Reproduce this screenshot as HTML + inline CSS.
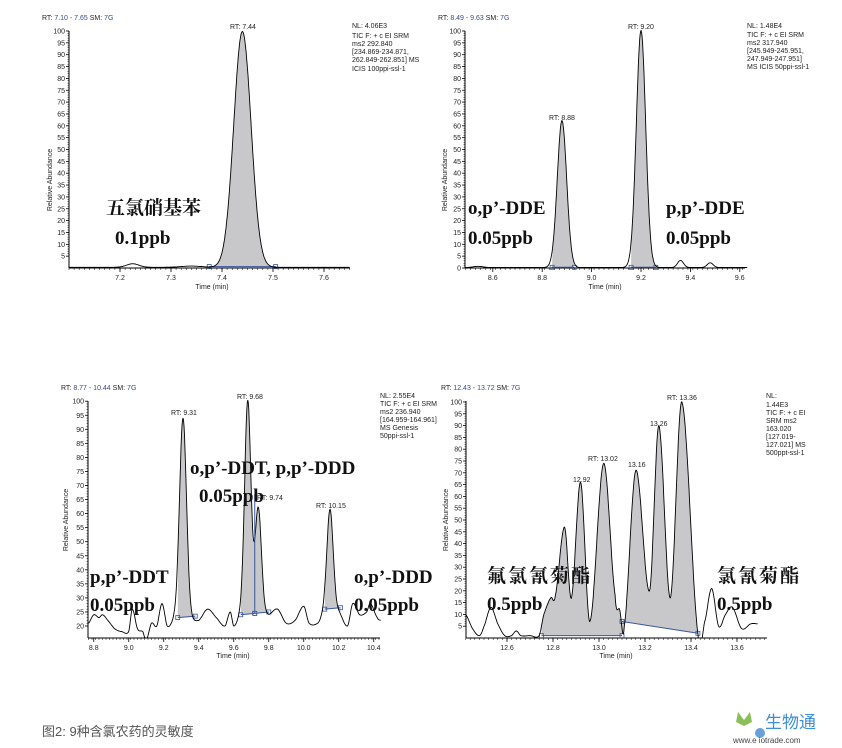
<!DOCTYPE html>
<html><head><meta charset="utf-8">
<style>
body{margin:0;background:#fff;width:842px;height:748px;overflow:hidden;position:relative;font-family:"Liberation Sans",sans-serif}
svg{position:absolute;left:0;top:0}
.s{font-family:"Liberation Sans",sans-serif;font-size:7px;fill:#222}
.h{font-family:"Liberation Sans",sans-serif;font-size:7px;fill:#222}
.b{font-family:"Liberation Serif","Noto Serif CJK SC",serif;font-size:19px;font-weight:bold;fill:#111}
.r{fill:#3a4a8a}
</style></head><body>
<svg width="842" height="748" viewBox="0 0 842 748" id="sv">
<g id="g"></g>
<text x="42" y="20" class="h">RT: <tspan class="r">7.10 - 7.65</tspan>  SM: <tspan class="r">7G</tspan></text>
<text x="230" y="29" class="s">RT: 7.44</text>
<g class="s"><text x="352" y="28">NL: 4.06E3</text><text x="352" y="38">TIC F: + c EI SRM</text><text x="352" y="46">ms2 292.840</text><text x="352" y="54">[234.869-234.871,</text><text x="352" y="62">262.849-262.851] MS</text><text x="352" y="71"> ICIS 100ppi-ssl-1</text></g>
<text x="52" y="180" class="s" transform="rotate(-90 52 180)" text-anchor="middle">Relative Abundance</text>
<text x="212" y="289" class="s" text-anchor="middle">Time (min)</text>
<text x="106" y="214" class="b">五氯硝基苯</text>
<text x="115" y="244" class="b">0.1ppb</text>
<text x="438" y="20" class="h">RT: <tspan class="r">8.49 - 9.63</tspan>  SM: <tspan class="r">7G</tspan></text>
<text x="549" y="120" class="s">RT: 8.88</text>
<text x="628" y="29" class="s">RT: 9.20</text>
<g class="s"><text x="747" y="28">NL: 1.48E4</text><text x="747" y="37">TIC F: + c EI SRM</text><text x="747" y="45">ms2 317.940</text><text x="747" y="53">[245.949-245.951,</text><text x="747" y="61">247.949-247.951]</text><text x="747" y="69">MS  ICIS 50ppi-ssl-1</text></g>
<text x="447" y="180" class="s" transform="rotate(-90 447 180)" text-anchor="middle">Relative Abundance</text>
<text x="605" y="289" class="s" text-anchor="middle">Time (min)</text>
<text x="468" y="214" class="b">o,p’-DDE</text>
<text x="468" y="244" class="b">0.05ppb</text>
<text x="666" y="214" class="b">p,p’-DDE</text>
<text x="666" y="244" class="b">0.05ppb</text>
<text x="61" y="390" class="h">RT: <tspan class="r">8.77 - 10.44</tspan>  SM: <tspan class="r">7G</tspan></text>
<text x="171" y="415" class="s">RT: 9.31</text>
<text x="237" y="399" class="s">RT: 9.68</text>
<text x="257" y="500" class="s">RT: 9.74</text>
<text x="316" y="508" class="s">RT: 10.15</text>
<g class="s"><text x="380" y="398">NL: 2.55E4</text><text x="380" y="406">TIC F: + c EI SRM</text><text x="380" y="414">ms2 236.940</text><text x="380" y="422">[164.959-164.961]</text><text x="380" y="430"> MS  Genesis</text><text x="380" y="438">50ppi-ssl-1</text></g>
<text x="68" y="520" class="s" transform="rotate(-90 68 520)" text-anchor="middle">Relative Abundance</text>
<text x="233" y="658" class="s" text-anchor="middle">Time (min)</text>
<text x="190" y="474" class="b">o,p’-DDT, p,p’-DDD</text>
<text x="199" y="502" class="b">0.05ppb</text>
<text x="90" y="583" class="b">p,p’-DDT</text>
<text x="90" y="611" class="b">0.05ppb</text>
<text x="354" y="583" class="b">o,p’-DDD</text>
<text x="354" y="611" class="b">0.05ppb</text>
<text x="441" y="390" class="h">RT: <tspan class="r">12.43 - 13.72</tspan>  SM: <tspan class="r">7G</tspan></text>
<text x="667" y="400" class="s">RT: 13.36</text>
<text x="650" y="426" class="s">13.26</text>
<text x="588" y="461" class="s">RT: 13.02</text>
<text x="628" y="467" class="s">13.16</text>
<text x="573" y="482" class="s">12.92</text>
<g class="s"><text x="766" y="398">NL:</text><text x="766" y="407">1.44E3</text><text x="766" y="415">TIC F: + c EI</text><text x="766" y="423">SRM ms2</text><text x="766" y="431">163.020</text><text x="766" y="439">[127.019-</text><text x="766" y="447">127.021]  MS</text><text x="766" y="455">500ppt-ssl-1</text></g>
<text x="448" y="520" class="s" transform="rotate(-90 448 520)" text-anchor="middle">Relative Abundance</text>
<text x="616" y="658" class="s" text-anchor="middle">Time (min)</text>
<text x="487" y="582" class="b" letter-spacing="2">氟氯氰菊酯</text>
<text x="487" y="610" class="b">0.5ppb</text>
<text x="717" y="582" class="b" letter-spacing="2">氯氰菊酯</text>
<text x="717" y="610" class="b">0.5ppb</text>
<text x="42" y="736" style="font-family:'Liberation Sans','Noto Sans CJK SC',sans-serif;font-size:13px;fill:#555">图2: 9种含氯农药的灵敏度</text>
<path d="M738 712 l6 8 l6 -8 l2 10 l-8 4 l-8 -4z" fill="#8cbf5a"/>
<circle cx="760" cy="733" r="5" fill="#6aa0d8"/>
<text x="765" y="728" style="font-family:'Liberation Sans','Noto Sans CJK SC',sans-serif;font-size:17px;fill:#3d8fd6">生物通</text>
<text x="733" y="743" style="font-family:'Liberation Sans',sans-serif;font-size:8px;fill:#444">www.e  iotrade.com</text>
</svg>
<script>
var G=document.getElementById('g'),NS='http://www.w3.org/2000/svg';
function el(t,a){var e=document.createElementNS(NS,t);for(var k in a)e.setAttribute(k,a[k]);G.appendChild(e);return e;}
function gs(t,c,a,s){return a*Math.exp(-(t-c)*(t-c)/(2*s*s));}
function interp(pts,t){if(t<=pts[0][0])return pts[0][1];for(var i=0;i<pts.length-1;i++){var a=pts[i],b=pts[i+1];if(t<=b[0]){var p0=pts[Math.max(0,i-1)],p3=pts[Math.min(pts.length-1,i+2)];var u=(t-a[0])/(b[0]-a[0]);var m1=(b[1]-p0[1])/2,m2=(p3[1]-a[1])/2;var u2=u*u,u3=u2*u;return (2*u3-3*u2+1)*a[1]+(u3-2*u2+u)*m1+(-2*u3+3*u2)*b[1]+(u3-u2)*m2;}}return pts[pts.length-1][1];}
function axes(o){
 el('line',{x1:o.x0,y1:o.yt,x2:o.x0,y2:o.yb,stroke:'#000','stroke-width':1});
 el('line',{x1:o.x0,y1:o.yb,x2:o.x1,y2:o.yb,stroke:'#000','stroke-width':1});
 for(var v=o.ymin0;v<=100;v+=5){var y=o.Y(v);el('line',{x1:o.x0-3,y1:y,x2:o.x0,y2:y,stroke:'#000','stroke-width':0.8});
  var t=el('text',{x:o.x0-4,y:y+2.5,'text-anchor':'end','class':'s'});t.textContent=v;}
 for(var v=o.ymin0;v<=100;v+=1){var y=o.Y(v);el('line',{x1:o.x0-1.5,y1:y,x2:o.x0,y2:y,stroke:'#000','stroke-width':0.5});}
 for(var t=o.t0;t<=o.t1+1e-6;t+=o.minor){var x=o.X(t);if(x>o.x1)break;el('line',{x1:x,y1:o.yb,x2:x,y2:o.yb+2,stroke:'#000','stroke-width':0.5});}
 o.labels.forEach(function(l){var x=o.X(l);el('line',{x1:x,y1:o.yb,x2:x,y2:o.yb+4,stroke:'#000','stroke-width':0.8});var t=el('text',{x:x,y:o.yb+12,'text-anchor':'middle','class':'s'});t.textContent=l.toFixed(1);});
}
function curve(o,f,fills){
 var n=600,pts=[];for(var i=0;i<=n;i++){var t=o.ts+(o.te-o.ts)*i/n;var v=f(t);pts.push([o.X(t),Math.min(o.yb,o.Y(v)),t,v]);}
 fills.forEach(function(fl){var s='';var seg=pts.filter(function(p){return p[2]>=fl[0]&&p[2]<=fl[1];});
  seg.forEach(function(p,i){s+=(i?'L':'M')+p[0].toFixed(1)+' '+p[1].toFixed(1);});
  s+='L'+o.X(fl[1])+' '+o.Y(fl[3])+'L'+o.X(fl[0])+' '+o.Y(fl[2])+'Z';
  el('path',{d:s,fill:'#c8c8ca',stroke:'none'});
  el('line',{x1:o.X(fl[0]),y1:o.Y(fl[2]),x2:o.X(fl[1]),y2:o.Y(fl[3]),stroke:'#3a55a0','stroke-width':1});
  [[fl[0],fl[2]],[fl[1],fl[3]]].forEach(function(q){el('rect',{x:o.X(q[0])-2,y:o.Y(q[1])-2,width:4,height:4,fill:'none',stroke:'#3a55a0','stroke-width':0.8});});
 });
 var s='';pts.forEach(function(p,i){s+=(i?'L':'M')+p[0].toFixed(1)+' '+p[1].toFixed(1);});
 el('path',{d:s,fill:'none',stroke:'#000','stroke-width':0.9});
}
var c1={x0:69,x1:350,yt:31,yb:268,t0:7.1,t1:7.65,minor:0.01,labels:[7.2,7.3,7.4,7.5,7.6],ymin0:5,ts:7.1,te:7.65};
c1.X=function(t){return 120+(t-7.2)*510;};c1.Y=function(v){return 268-v*2.37;};
axes(c1);
curve(c1,function(t){return 0.3+gs(t,7.44,99.5,0.017)+gs(t,7.225,1.5,0.012)+gs(t,7.34,0.5,0.02);},[[7.375,7.505,0.6,0.6]]);
var c2={x0:465,x1:745,yt:31,yb:268,t0:8.49,t1:9.63,minor:0.02,labels:[8.6,8.8,9.0,9.2,9.4,9.6],ymin0:0,ts:8.49,te:9.63};
c2.X=function(t){return 641+(t-9.2)*247;};c2.Y=function(v){return 268-v*2.37;};
axes(c2);
curve(c2,function(t){return 0.2+gs(t,8.88,62,0.019)+gs(t,9.2,100,0.019)+gs(t,9.36,3,0.012)+gs(t,9.48,2,0.012)+gs(t,8.54,0.5,0.02);},[[8.84,8.93,0.3,0.3],[9.16,9.26,0.3,0.3]]);
var c3={x0:88,x1:380,yt:401,yb:638,t0:8.77,t1:10.44,minor:0.02,labels:[8.8,9.0,9.2,9.4,9.6,9.8,10.0,10.2,10.4],ymin0:20,ts:8.77,te:10.44};
c3.X=function(t){return 183+(t-9.31)*175;};c3.Y=function(v){return 626-(v-20)*2.81;};
axes(c3);
var b3=[[8.77,21],[8.8,24],[8.83,23],[8.85,24],[8.88,22],[8.92,19],[8.96,18],[9.0,18],[9.02,26],[9.05,19],[9.08,18],[9.1,15],[9.13,21],[9.16,20],[9.19,28],[9.22,20],[9.26,22],[9.4,22],[9.45,26],[9.5,23],[9.55,20],[9.58,25],[9.6,20],[9.64,24],[9.8,24],[9.85,26],[9.9,21],[9.95,22],[10.0,27],[10.03,21],[10.08,21],[10.12,25],[10.2,25],[10.25,20],[10.28,28],[10.32,24],[10.36,25],[10.38,28],[10.42,23],[10.44,22]];
curve(c3,function(t){return interp(b3,t)+gs(t,9.31,72,0.02)+gs(t,9.68,76,0.018)+gs(t,9.74,38,0.018)+gs(t,10.15,36,0.018);},[[9.28,9.38,23,23.5],[9.64,9.72,24,24.5],[9.72,9.8,24.5,25],[10.12,10.21,26,26.5]]);
el('line',{x1:c3.X(9.72),y1:c3.Y(24.5),x2:c3.X(9.72),y2:c3.Y(67),stroke:'#3a55a0','stroke-width':1});
var c4={x0:466,x1:767,yt:401,yb:638,t0:12.42,t1:13.72,minor:0.02,labels:[12.6,12.8,13.0,13.2,13.4,13.6],ymin0:5,ts:12.42,te:13.69};
c4.X=function(t){return 507+(t-12.6)*230;};c4.Y=function(v){return 638-v*2.36;};
axes(c4);
var b4=[[12.42,10],[12.45,4],[12.48,1],[12.5,5],[12.53,13],[12.56,6],[12.59,1],[12.62,1],[12.64,3],[12.66,1],[12.7,1],[12.74,1],[12.76,10],[12.79,17],[12.81,18],[12.85,47],[12.88,17],[12.92,66],[12.96,7],[13.02,74],[13.07,18],[13.09,12],[13.11,5],[13.16,71],[13.22,20],[13.26,90],[13.31,17],[13.36,100],[13.43,2],[13.46,7],[13.49,21],[13.52,5],[13.55,10],[13.58,13],[13.62,4],[13.66,6],[13.69,6]];
curve(c4,function(t){return interp(b4,t);},[[12.75,13.1,1,1],[13.1,13.43,7,2]]);
</script>
</body></html>
